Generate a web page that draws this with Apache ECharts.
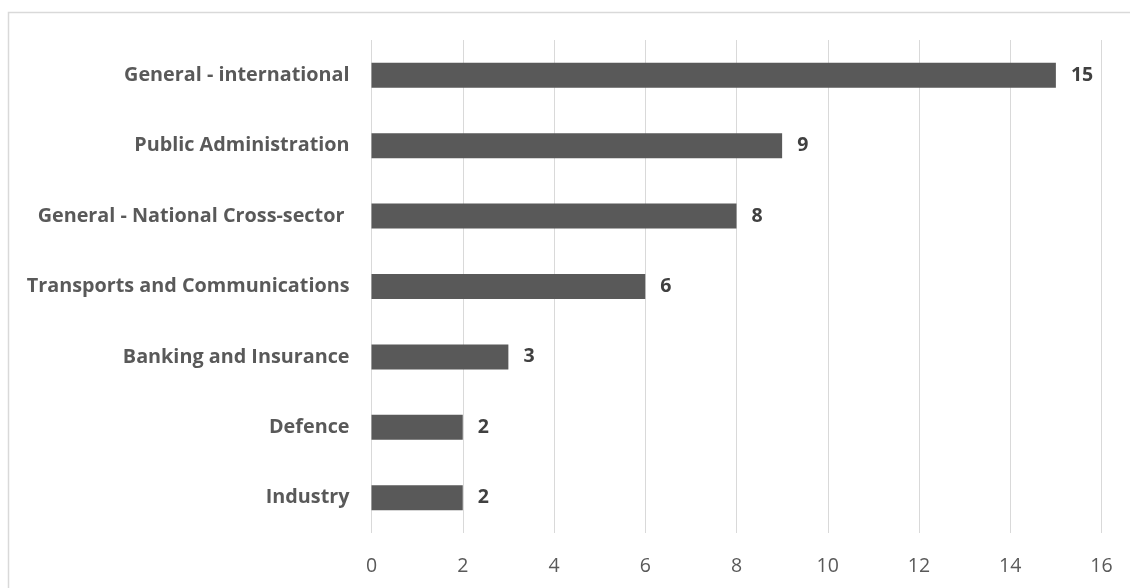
<!DOCTYPE html>
<html>
<head>
<meta charset="utf-8">
<script src="https://cdn.jsdelivr.net/npm/echarts@6/dist/echarts.min.js"></script>
<style>
  html, body { margin: 0; padding: 0; background: #fff; }
  #chart { width: 1130px; height: 588px; }
</style>
</head>
<body>
<div id="chart"></div>
<script>
// Sectors, listed bottom to top as the category axis draws them
const sectors = [
  'Industry',
  'Defence',
  'Banking and Insurance',
  'Transports and Communications',
  'General - National Cross-sector ',
  'Public Administration',
  'General - international'
];
const counts = [2, 2, 3, 6, 8, 9, 15];
const valueTicks = [0, 2, 4, 6, 8, 10, 12, 14, 16];

const fontFamily = '"Open Sans", "Noto Sans", sans-serif';

const chart = echarts.init(document.getElementById('chart'), null, { renderer: 'canvas' });
chart.setOption({
  animation: false,
  backgroundColor: '#ffffff',
  graphic: [{
    type: 'rect',
    shape: { x: 8.5, y: 12.5, width: 1200, height: 700 },
    style: { fill: 'none', stroke: '#d9d9d9', lineWidth: 1.5 },
    silent: true
  }],
  grid: { left: 371.5, right: 28.5, top: 40, bottom: 55, containLabel: false },
  xAxis: {
    type: 'value',
    min: valueTicks[0],
    max: valueTicks[valueTicks.length - 1],
    interval: valueTicks[1] - valueTicks[0],
    axisLine: { show: false },
    axisTick: { show: false },
    splitLine: { show: true, lineStyle: { color: '#d9d9d9', width: 1 } },
    axisLabel: { color: '#595959', fontSize: 19.5, fontFamily: fontFamily, margin: 23 }
  },
  yAxis: {
    type: 'category',
    data: sectors,
    axisLine: { show: false },
    axisTick: { show: false },
    axisLabel: { color: '#595959', fontSize: 19.8, fontWeight: 'bold', fontFamily: fontFamily, margin: 22, padding: [3, 0, 0, 0] }
  },
  series: [{
    type: 'bar',
    data: counts,
    barWidth: 25,
    itemStyle: { color: '#595959' },
    label: {
      show: true,
      position: 'right',
      distance: 15,
      color: '#404040',
      fontSize: 19.5,
      fontWeight: 'bold',
      fontFamily: fontFamily,
      padding: [3, 0, 0, 0]
    }
  }]
});
</script>
</body>
</html>
